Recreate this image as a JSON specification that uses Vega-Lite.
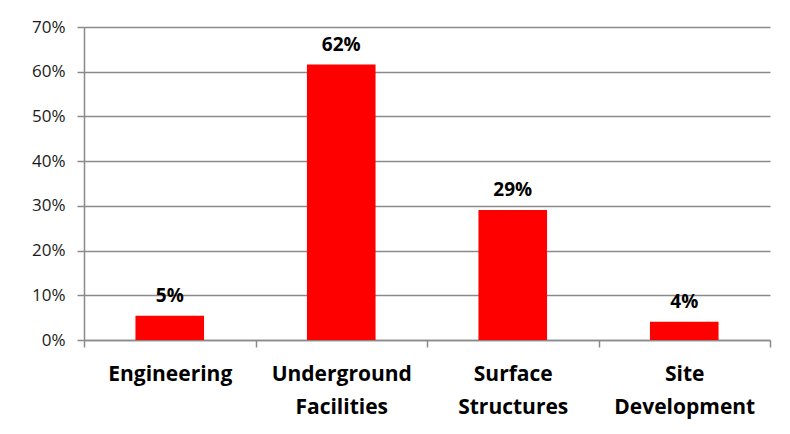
{
  "$schema": "https://vega.github.io/schema/vega-lite/v6.json",
  "width": 686,
  "height": 313,
  "autosize": {"type": "none"},
  "padding": {"left": 84, "top": 27, "right": 20, "bottom": 94},
  "background": "white",
  "data": {
    "values": [
      {"category": "Engineering", "share": 0.054},
      {"category": "Underground Facilities", "share": 0.616},
      {"category": "Surface Structures", "share": 0.291},
      {"category": "Site Development", "share": 0.041}
    ]
  },
  "encoding": {
    "x": {
      "field": "category",
      "type": "nominal",
      "sort": null,
      "scale": {"paddingInner": 0, "paddingOuter": 0},
      "axis": {
        "title": null,
        "labelAngle": 0,
        "tickBand": "extent",
        "labelExpr": "split(datum.label, ' ')",
        "labelFont": "Open Sans",
        "labelFontSize": 21,
        "labelFontWeight": "bold",
        "labelColor": "#000000",
        "labelLineHeight": 33,
        "labelPadding": 16,
        "labelBaseline": "top",
        "domainColor": "#8a8a8a",
        "domainWidth": 1.5,
        "tickColor": "#8a8a8a",
        "tickWidth": 1.5,
        "tickSize": 7,
        "grid": false
      }
    },
    "y": {
      "field": "share",
      "type": "quantitative",
      "scale": {"domain": [0, 0.7], "nice": false},
      "axis": {
        "title": null,
        "format": ".0%",
        "values": [0, 0.1, 0.2, 0.3, 0.4, 0.5, 0.6, 0.7],
        "labelFont": "Open Sans",
        "labelFontSize": 17,
        "labelColor": "#1a1a1a",
        "labelPadding": 12,
        "domainColor": "#8a8a8a",
        "domainWidth": 1.5,
        "tickColor": "#8a8a8a",
        "tickWidth": 1.5,
        "tickSize": 7,
        "gridColor": "#8a8a8a",
        "gridWidth": 1.5,
        "gridOpacity": 1
      }
    }
  },
  "layer": [
    {"mark": {"type": "bar", "color": "#ff0000", "width": {"band": 0.4}}},
    {
      "mark": {"type": "text", "baseline": "alphabetic", "dy": -14, "font": "Open Sans", "fontSize": 19, "fontWeight": "bold", "color": "#000000"},
      "encoding": {"text": {"field": "share", "type": "quantitative", "format": ".0%"}}
    }
  ],
  "config": {"view": {"stroke": null}}
}
